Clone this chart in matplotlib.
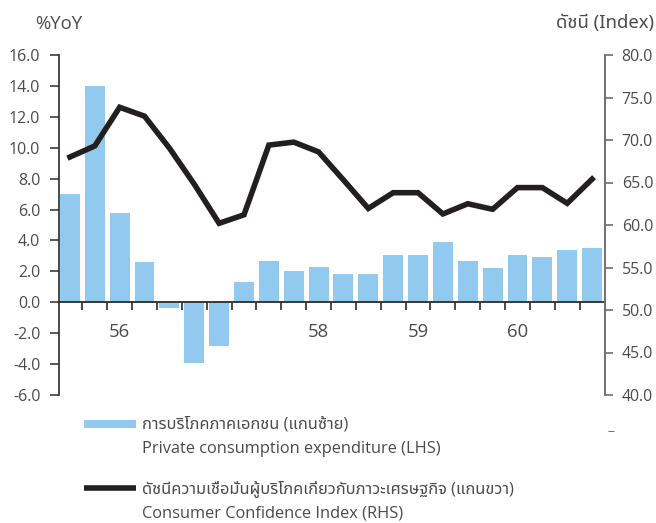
import matplotlib
matplotlib.use("Agg")
import matplotlib.pyplot as plt
from matplotlib import font_manager as fm
from matplotlib.ft2font import FT2Font
from matplotlib.legend_handler import HandlerBase
from matplotlib.patches import Rectangle
from matplotlib.lines import Line2D

# ---------------- data ----------------
pce_yoy = [7.0, 14.0, 5.8, 2.6, -0.35, -3.95, -2.85, 1.3, 2.7, 2.0, 2.3,
           1.85, 1.85, 3.05, 3.05, 3.9, 2.7, 2.2, 3.05, 2.9, 3.4, 3.5]
cci = [68.0, 69.3, 73.85, 72.8, 69.05, 64.8, 60.2, 61.2, 69.4, 69.75, 68.6,
       65.3, 61.95, 63.8, 63.8, 61.3, 62.5, 61.85, 64.4, 64.4, 62.55, 65.4]
year_labels = ["56", "58", "59", "60"]
year_label_idx = [2, 10, 14, 18]
left_ticks = [-6, -4, -2, 0, 2, 4, 6, 8, 10, 12, 14, 16]
right_ticks = [40, 45, 50, 55, 60, 65, 70, 75, 80]
label_pce_th = "การบริโภคภาคเอกชน (แกนซ้าย)"
label_pce_en = "Private consumption expenditure (LHS)"
label_cci_th = "ดัชนีความเชื่อมั่นผู้บริโภคเกี่ยวกับภาวะเศรษฐกิจ (แกนขวา)"
label_cci_en = "Consumer Confidence Index (RHS)"

# ---------------- fonts ----------------
def find_thai_family():
    preferred = ["Noto Sans Thai", "Noto Sans Thai UI", "Leelawadee UI",
                 "Leelawadee", "Tahoma", "Noto Sans Thai Looped", "Loma",
                 "Garuda", "Sarabun", "TH Sarabun New", "Kinnari", "Norasi",
                 "Tlwg Typo", "Umpush", "Waree", "Laksaman", "Sawasdee"]
    names = {}
    seen = set()
    for f in fm.fontManager.ttflist:
        if f.fname in seen:
            continue
        seen.add(f.fname)
        try:
            cm = FT2Font(f.fname).get_charmap()
        except Exception:
            continue
        if 0x0E01 in cm and 0x0E35 in cm and 0x0E49 in cm:
            names.setdefault(f.name, f.fname)
    for p in preferred:
        if p in names:
            return p
    if names:
        return sorted(names)[0]
    return None

thai = find_thai_family()
latin = "Open Sans"
fam = [latin] + ([thai] if thai else []) + ["DejaVu Sans"]
fam_th = ([thai] if thai else []) + [latin, "DejaVu Sans"]
plt.rcParams["font.family"] = fam

TXT = "#4a4a4a"
BAR = "#92C9EE"
LINE = "#231F20"
FS = 11.4      # tick labels
FS_BIG = 13.3  # axis titles, year labels
FS_LEG = 11.8  # legend

fig = plt.figure(figsize=(6.56, 5.23), dpi=100)
W, H = 656, 523
ax = fig.add_axes([59 / W, 1 - 395 / H, (605 - 59) / W, (395 - 55) / H])
ax2 = ax.twinx()

x = list(range(len(pce_yoy)))
ax.bar(x, pce_yoy, width=0.8, color=BAR, zorder=2)
ax2.plot(x, cci, color=LINE, lw=4.0, solid_joinstyle="miter", zorder=3)

ax.set_xlim(-0.44, len(x) - 1 + 0.52)
ax.set_ylim(-6, 16)
ax2.set_ylim(40, 80)

ax.set_yticks(left_ticks)
ax.set_yticklabels([f"{v:.1f}" for v in left_ticks])
ax2.set_yticks(right_ticks)
ax2.set_yticklabels([f"{v:.1f}" for v in right_ticks])

for s in ["top", "right"]:
    ax.spines[s].set_visible(False)
for s in ["top", "left", "bottom"]:
    ax2.spines[s].set_visible(False)
ax.spines["left"].set_color("#2b2b2b")
ax.spines["left"].set_linewidth(1.2)
ax.spines["bottom"].set_position(("data", 0))
ax.spines["bottom"].set_color("#2b2b2b")
ax.spines["bottom"].set_linewidth(1.3)
ax2.spines["right"].set_color("#707070")
ax2.spines["right"].set_linewidth(1.4)

ax.tick_params(axis="y", direction="out", length=6.5, width=1.1, color="#2b2b2b",
               labelsize=FS, labelcolor=TXT, pad=7)
ax2.tick_params(axis="y", direction="out", length=6.0, width=1.2, color="#707070",
                labelsize=FS, labelcolor=TXT, pad=6)

# boundary ticks on x axis, year labels as minor ticks
ax.set_xticks([i + 0.5 for i in range(len(x) - 1)])
ax.set_xticklabels([])
ax.tick_params(axis="x", which="major", direction="out", length=5.5, width=1.2,
               color="#2b2b2b")
ax.set_xticks(year_label_idx, minor=True)
ax.set_xticklabels(year_labels, minor=True)
ax.tick_params(axis="x", which="minor", length=0, pad=15, labelsize=FS_BIG,
               labelcolor=TXT)

# axis titles
fig.text(35 / W, 1 - 24 / H, "%YoY", ha="left", va="center", fontsize=FS_BIG,
         color=TXT)
fig.text(654 / W, 1 - 23 / H, "ดัชนี (Index)", ha="right", va="center",
         fontsize=FS_BIG, color=TXT, family=fam_th)
fig.text(611 / W, 1 - 431 / H, "–", ha="center", va="center", fontsize=10,
         color="#707070")


# legend with handle aligned to the first line of each two-line label
class TopHandler(HandlerBase):
    def __init__(self, kind, shift, **kw):
        super().__init__(**kw)
        self.kind = kind
        self.shift = shift

    def create_artists(self, legend, orig_handle, xdescent, ydescent, width,
                       height, fontsize, trans):
        yc = height / 2 - ydescent + self.shift
        if self.kind == "bar":
            h = 6.0
            art = Rectangle((-xdescent, yc - h / 2), width, h,
                            facecolor=BAR, edgecolor="none", transform=trans)
        else:
            art = Line2D([-xdescent, -xdescent + width], [yc, yc], color=LINE,
                         lw=4.0, solid_capstyle="butt", transform=trans)
        return [art]


h_bar = Rectangle((0, 0), 1, 1, color=BAR)
h_line = Line2D([0], [0], color=LINE, lw=4)
leg = fig.legend([h_bar, h_line],
                 [label_pce_th + "\n" + label_pce_en,
                  label_cci_th + "\n" + label_cci_en],
                 handler_map={h_bar: TopHandler("bar", 9.2),
                              h_line: TopHandler("line", 9.2)},
                 loc="upper left", bbox_to_anchor=(84 / W, 1 - 416 / H),
                 frameon=False, fontsize=FS_LEG, handlelength=3.15,
                 handletextpad=0.38, labelspacing=1.4, borderpad=0,
                 borderaxespad=0)
for t in leg.get_texts():
    t.set_color(TXT)
    t.set_linespacing(1.72)
    t.set_family(fam)

fig.savefig("out.png", dpi=100)
